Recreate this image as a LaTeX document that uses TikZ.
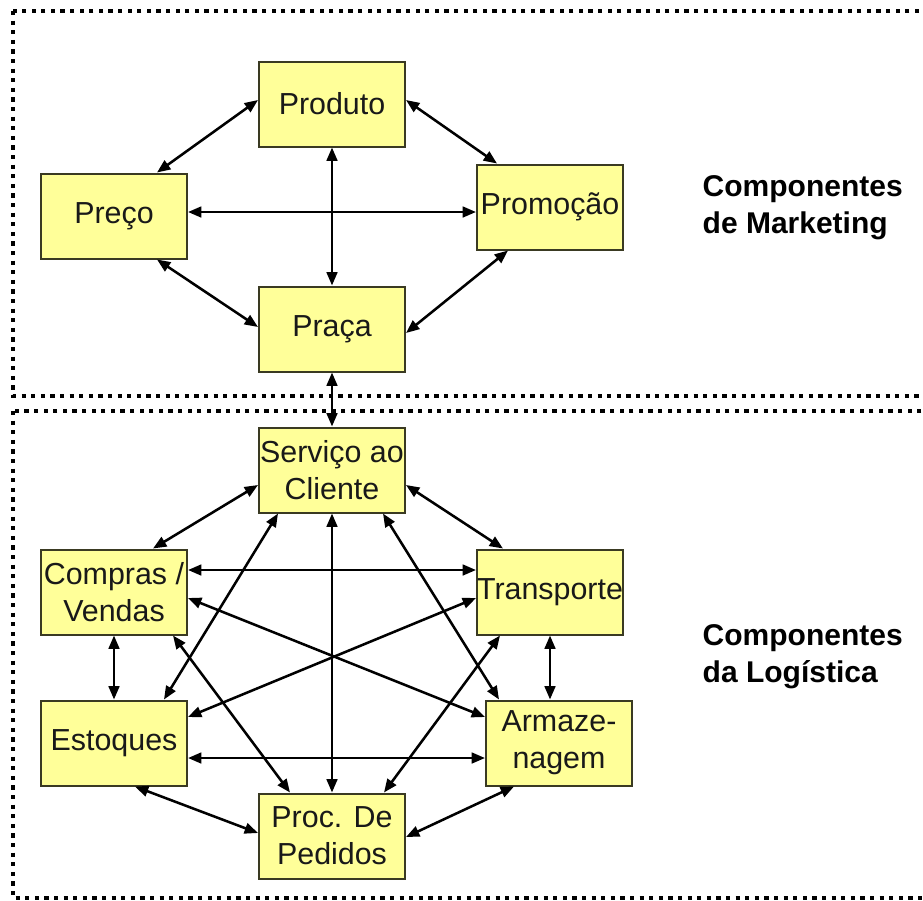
\documentclass[tikz,border=0pt]{standalone}
\usepackage{fontspec}
\setmainfont{Liberation Sans}
\usetikzlibrary{arrows.meta,calc}
\definecolor{boxfill}{HTML}{FFFF99}
\definecolor{boxline}{HTML}{3A3A22}
\begin{document}
\begin{tikzpicture}[x=0.75pt,y=-0.75pt,
  comp/.style={draw=boxline,line width=1.5pt,fill=boxfill,rectangle,
    minimum width=109.5pt,minimum height=63.75pt,inner sep=0pt,align=center,
    text=black!90,font=\fontsize{22.8}{27.5}\selectfont},
  link/.style={line width=1.9pt,{Triangle[length=10pt,width=8pt]}-{Triangle[length=10pt,width=8pt]}},
  frame/.style={line width=3.2pt,dash pattern=on 3.2pt off 4pt},
  group/.style={anchor=west,align=left,font=\fontsize{22.5}{27.5}\selectfont\bfseries}]
\useasboundingbox (0,0) rectangle (923,900);
% dotted frames of the two sections
\begin{scope}
\clip (0,0) rectangle (923,900);
\draw[frame] (13,11) rectangle (945,396);
\draw[frame] (13,411) rectangle (945,898);
\end{scope}
% marketing components
\node[comp] (prod) at (332,104) {Produto};
\node[comp] (pre) at (114,216) {Preço};
\node[comp] (promo) at (550,207) {Promoção};
\node[comp] (pra) at (332,329) {Praça};
\node[group] (mkt) at (698,208) {Componentes\\de Marketing};
% logistics components
\node[comp] (serv) at (332,470) {Serviço ao\\Cliente};
\node[comp] (compv) at (114,592) {Compras /\\Vendas};
\node[comp] (transp) at (550,592) {Transporte};
\node[comp] (est) at (114,743) {Estoques};
\node[comp] (arm) at (559,743) {Armaze-\\nagem};
\node[comp] (proc) at (332,836) {Proc. De\\Pedidos};
\node[group] (log) at (698,657) {Componentes\\da Logística};
% marketing links
\draw[link] ($(prod.west)+(0,-4)$) -- ($(pre.north)+(43,0)$);
\draw[link] ($(prod.east)+(0,-4)$) -- ($(promo.north)+(-53,0)$);
\draw[link] ($(pre.east)+(0,-4)$) -- ($(promo.west)+(0,5)$);
\draw[link] (prod.south) -- (pra.north);
\draw[link] ($(pre.south)+(43,0)$) -- ($(pra.west)+(0,-2)$);
\draw[link] ($(promo.south)+(-42,0)$) -- ($(pra.east)+(0,4)$);
\draw[link] (pra.south) -- (serv.north);
% logistics links
\draw[link] ($(serv.west)+(0,15)$) -- ($(compv.north)+(39,0)$);
\draw[link] ($(serv.east)+(0,15)$) -- ($(transp.north)+(-47,0)$);
\draw[link] (serv.south) -- (proc.north);
\draw[link] ($(serv.south)+(-54,0)$) -- ($(est.north)+(50,0)$);
\draw[link] ($(serv.south)+(51,0)$) -- ($(arm.north)+(-60,0)$);
\draw[link] ($(compv.east)+(0,-22)$) -- ($(transp.west)+(0,-22)$);
\draw[link] ($(compv.east)+(0,6)$) -- ($(arm.west)+(0,-26)$);
\draw[link] (compv.south) -- (est.north);
\draw[link] ($(compv.south)+(59,0)$) -- ($(proc.north)+(-42,0)$);
\draw[link] ($(transp.west)+(0,6)$) -- ($(est.east)+(0,-26)$);
\draw[link] (transp.south) -- (transp.south |- arm.north);
\draw[link] ($(transp.south)+(-50,0)$) -- ($(proc.north)+(52,0)$);
\draw[link] ($(est.east)+(0,15)$) -- ($(arm.west)+(0,15)$);
\draw[link] ($(est.south)+(21,0)$) -- ($(proc.west)+(0,-3)$);
\draw[link] ($(arm.south)+(-45,0)$) -- ($(proc.east)+(0,1)$);
\end{tikzpicture}
\end{document}
